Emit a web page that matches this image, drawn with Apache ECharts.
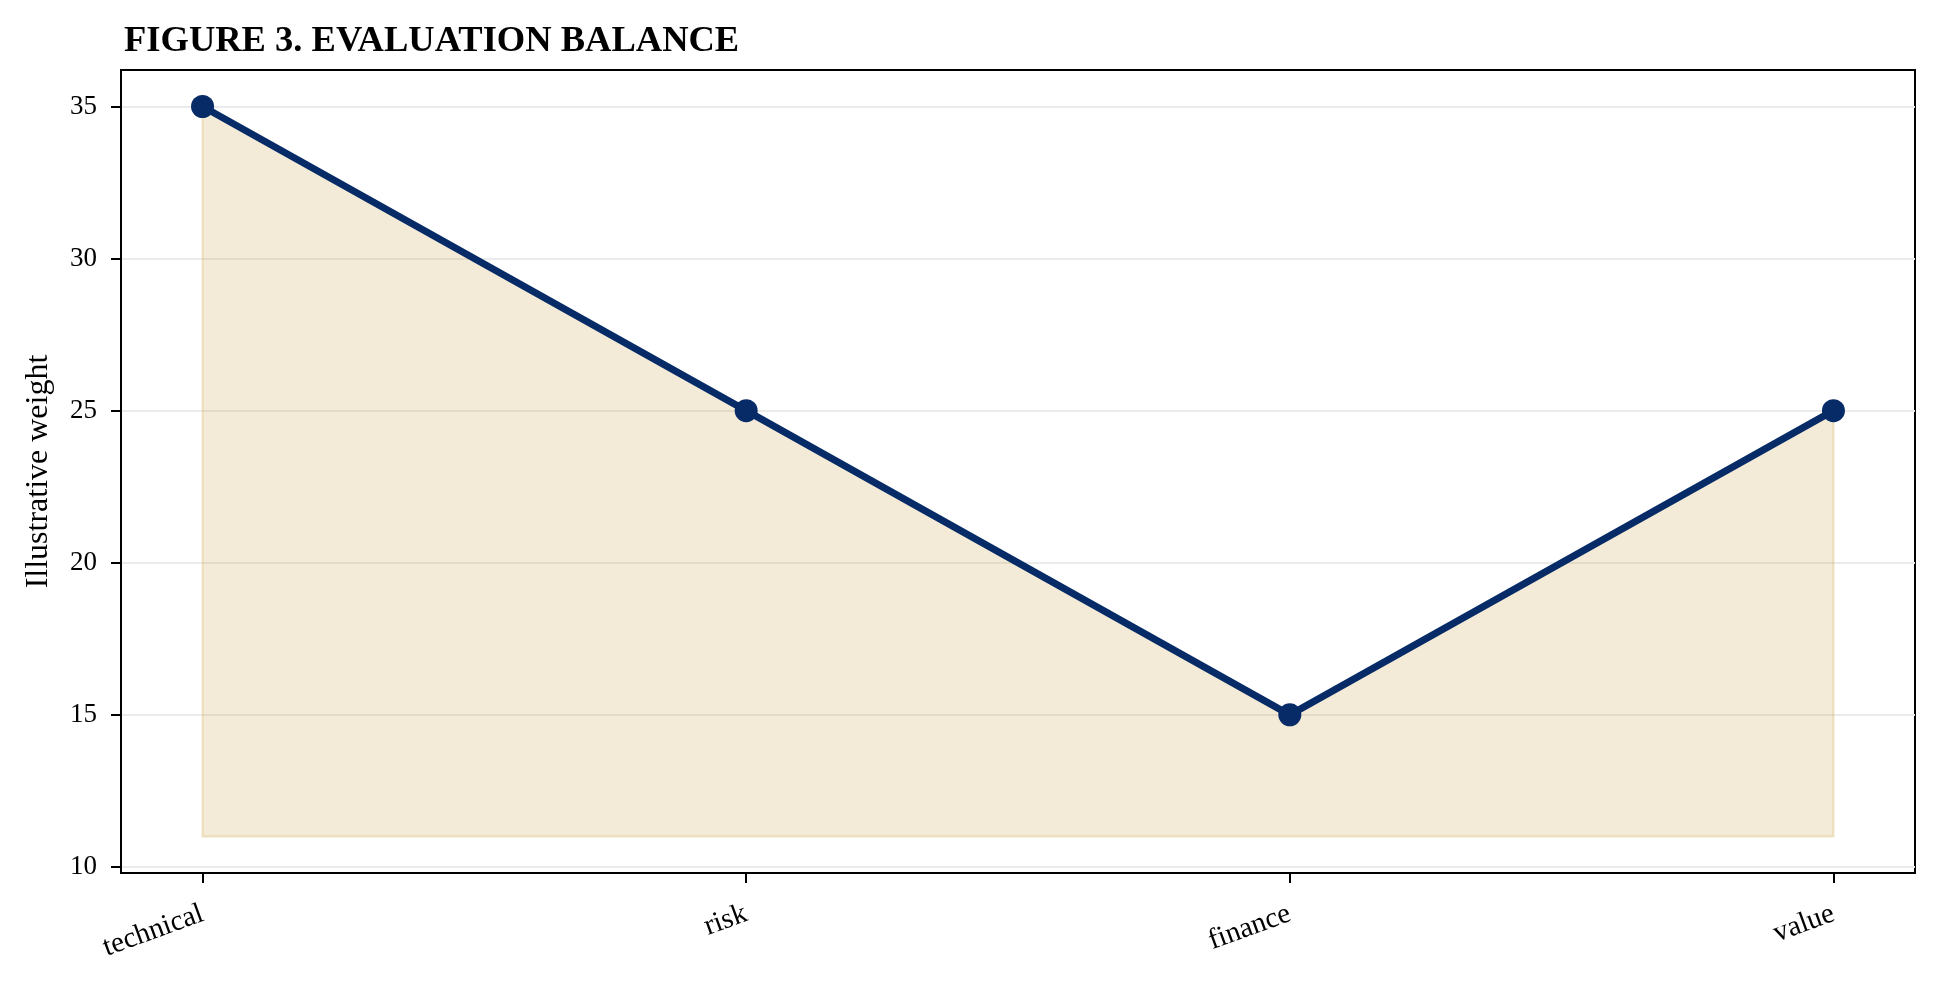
<!DOCTYPE html>
<html>
<head>
<meta charset="utf-8">
<script src="https://cdn.jsdelivr.net/npm/echarts@6/dist/echarts.min.js"></script>
<style>
  html, body { margin: 0; padding: 0; background: #fff; }
  #main { width: 1940px; height: 983px; }
</style>
</head>
<body>
<div id="main"></div>
<script>
// data
var categories = ['technical', 'risk', 'finance', 'value'];
var weights = [35, 25, 15, 25];
var yTicks = [10, 15, 20, 25, 30, 35];
var fillBase = 11;

var serif = "'Liberation Serif', 'Times New Roman', serif";
var navy = '#062b66';

var points = categories.map(function (c, i) { return [i, weights[i]]; });
var xTicks = categories.map(function (c, i) { return i; });

// shaded band under the line, down to fillBase, with a thin edge
function renderFill(params, api) {
  if (params.dataIndex !== 0) return;
  var poly = points.map(function (p) { return api.coord(p); });
  poly.push(api.coord([points[points.length - 1][0], fillBase]));
  poly.push(api.coord([points[0][0], fillBase]));
  return {
    type: 'polygon',
    shape: { points: poly },
    style: { fill: 'rgba(196,156,64,0.21)', stroke: 'rgba(214,180,100,0.35)', lineWidth: 2 }
  };
}

var myChart = echarts.init(document.getElementById('main'));
var option = {
  animation: false,
  backgroundColor: '#fff',
  title: {
    text: 'FIGURE 3. EVALUATION BALANCE',
    left: 119,
    top: 18,
    textStyle: { fontFamily: serif, fontWeight: 'bold', fontSize: 36.5, color: '#000' }
  },
  grid: {
    left: 121, right: 25, top: 70, bottom: 110,
    show: true, borderColor: '#000', borderWidth: 2, backgroundColor: 'transparent'
  },
  xAxis: {
    type: 'value',
    min: -0.15,
    max: 3.15,
    axisLine: { show: true, onZero: false, lineStyle: { color: '#000', width: 2 } },
    axisTick: { show: true, customValues: xTicks, length: 10, lineStyle: { color: '#000', width: 2 } },
    axisLabel: {
      customValues: xTicks,
      formatter: function (v) { return categories[v]; },
      rotate: 20,
      margin: 40,
      fontFamily: serif, fontSize: 29, color: '#000'
    },
    splitLine: { show: false }
  },
  yAxis: {
    type: 'value',
    min: 9.8,
    max: 36.2,
    name: 'Illustrative weight',
    nameLocation: 'middle',
    nameGap: 66,
    nameTextStyle: { fontFamily: serif, fontSize: 32, color: '#000' },
    axisLine: { show: true, onZero: false, lineStyle: { color: '#000', width: 2 } },
    axisTick: { show: true, customValues: yTicks, length: 10, lineStyle: { color: '#000', width: 2 } },
    axisLabel: { customValues: yTicks, margin: 24, fontFamily: serif, fontSize: 27, color: '#000' },
    splitLine: { show: false }
  },
  series: [
    {
      name: 'grid',
      type: 'line',
      data: [],
      silent: true,
      markLine: {
        silent: true,
        z: 0,
        symbol: ['none', 'none'],
        label: { show: false },
        lineStyle: { color: '#ebebeb', width: 2, type: 'solid' },
        data: yTicks.map(function (v) { return { yAxis: v }; })
      }
    },
    {
      name: 'fill',
      type: 'custom',
      data: [0],
      silent: true,
      z: 1,
      renderItem: renderFill
    },
    {
      name: 'weight',
      type: 'line',
      data: points,
      z: 3,
      symbol: 'circle',
      symbolSize: 23,
      lineStyle: { color: navy, width: 7 },
      itemStyle: { color: navy }
    }
  ]
};
myChart.setOption(option);
</script>
</body>
</html>
